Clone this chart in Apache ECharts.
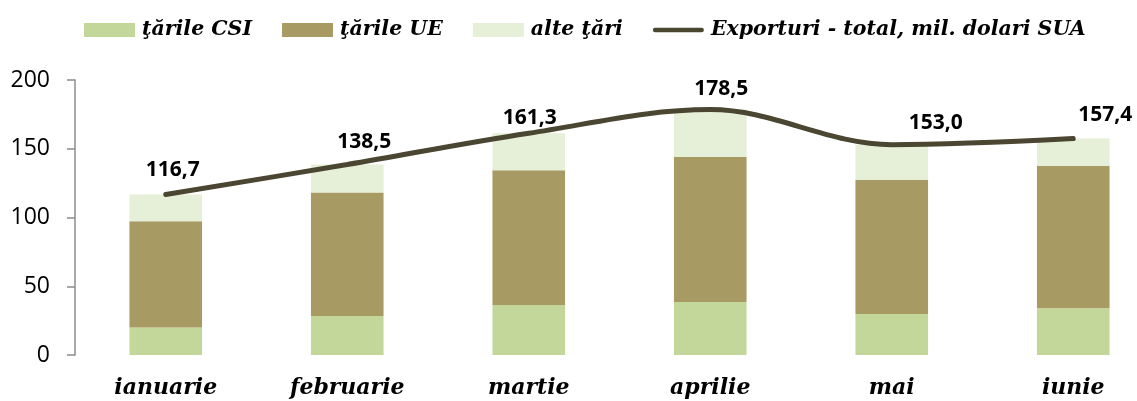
<!DOCTYPE html>
<html>
<head>
<meta charset="utf-8">
<script src="https://cdn.jsdelivr.net/npm/echarts@6/dist/echarts.min.js"></script>
<style>
  html, body { margin: 0; padding: 0; background: #fff; }
  #chart { width: 1137px; height: 401px; }
</style>
</head>
<body>
<div id="chart"></div>
<script>
// Exporturi lunare pe grupe de țări, mil. dolari SUA
const months = ['ianuarie', 'februarie', 'martie', 'aprilie', 'mai', 'iunie'];
const csi    = [20.0, 28.4, 36.4, 38.5, 29.8, 34.0];
const ue     = [77.2, 89.7, 97.9, 105.5, 97.7, 103.7];
const alte   = [19.5, 20.4, 27.0, 34.5, 25.5, 19.7];
const total  = [116.7, 138.5, 161.3, 178.5, 153.0, 157.4];
const yTicks = { min: 0, max: 200, interval: 50 };

// label nudges for the total line, in pixels [dx, dy]
const labelShift = [[7, -25], [17, -23], [1, -15], [11, -21], [44, -22], [32, -24]];

const serif = '"DejaVu Serif", "Liberation Serif", serif';
const sans = '"Open Sans", "Noto Sans", sans-serif';

const chart = echarts.init(document.getElementById('chart'), null, { renderer: 'canvas' });

const barBase = {
  type: 'bar',
  stack: 'exp',
  barWidth: '40%',
  emphasis: { disabled: true }
};

chart.setOption({
  animation: false,
  legend: {
    left: 84,
    top: 20,
    width: 1050,
    padding: 0,
    itemWidth: 51,
    itemHeight: 14,
    itemGap: 30,
    textStyle: { fontFamily: serif, fontStyle: 'italic', fontWeight: 'bold', fontSize: 20.5, color: '#000', padding: [0, 0, 0, 2] },
    data: [
      { name: 'ţările CSI', icon: 'rect' },
      { name: 'ţările UE', icon: 'rect' },
      { name: 'alte ţări', icon: 'rect' },
      { name: 'Exporturi - total, mil. dolari SUA', icon: 'path://M2.5,0 H54.5 A2.5,2.5 0 0 1 54.5,5 H2.5 A2.5,2.5 0 0 1 2.5,0 Z' }
    ]
  },
  grid: { left: 75, top: 80, height: 275, width: 1089, containLabel: false, outerBoundsMode: 'none' },
  xAxis: {
    type: 'category',
    data: months,
    axisLine: { show: false },
    axisTick: { show: false },
    axisLabel: {
      margin: 22,
      fontFamily: serif, fontStyle: 'italic', fontWeight: 'bold', fontSize: 22, color: '#000'
    }
  },
  yAxis: {
    type: 'value',
    min: yTicks.min,
    max: yTicks.max,
    interval: yTicks.interval,
    axisLine: { show: true, lineStyle: { color: '#8c8c8c', width: 1.5 } },
    axisTick: { show: true, inside: false, length: 8, lineStyle: { color: '#8c8c8c', width: 1.5 } },
    splitLine: { show: false },
    axisLabel: { margin: 25, fontFamily: sans, fontSize: 23, color: '#000' }
  },
  series: [
    Object.assign({}, barBase, { name: 'ţările CSI', data: csi, itemStyle: { color: '#c4d79b' } }),
    Object.assign({}, barBase, { name: 'ţările UE', data: ue, itemStyle: { color: '#a89a63' } }),
    Object.assign({}, barBase, { name: 'alte ţări', data: alte, itemStyle: { color: '#e6efd7' } }),
    {
      name: 'Exporturi - total, mil. dolari SUA',
      type: 'line',
      data: total,
      smooth: 0.35,
      symbol: 'circle',
      symbolSize: 0,
      showSymbol: true,
      z: 5,
      lineStyle: { color: '#4b4631', width: 5, cap: 'round' },
      itemStyle: { color: '#4b4631' },
      label: {
        show: true,
        position: 'inside',
        fontFamily: sans,
        fontWeight: 'bold',
        fontSize: 21,
        color: '#000',
        formatter: p => p.value.toFixed(1).replace('.', ',')
      },
      labelLayout: p => ({
        dx: labelShift[p.dataIndex][0],
        dy: labelShift[p.dataIndex][1],
        hideOverlap: false
      }),
      emphasis: { disabled: true }
    }
  ]
});
</script>
</body>
</html>
